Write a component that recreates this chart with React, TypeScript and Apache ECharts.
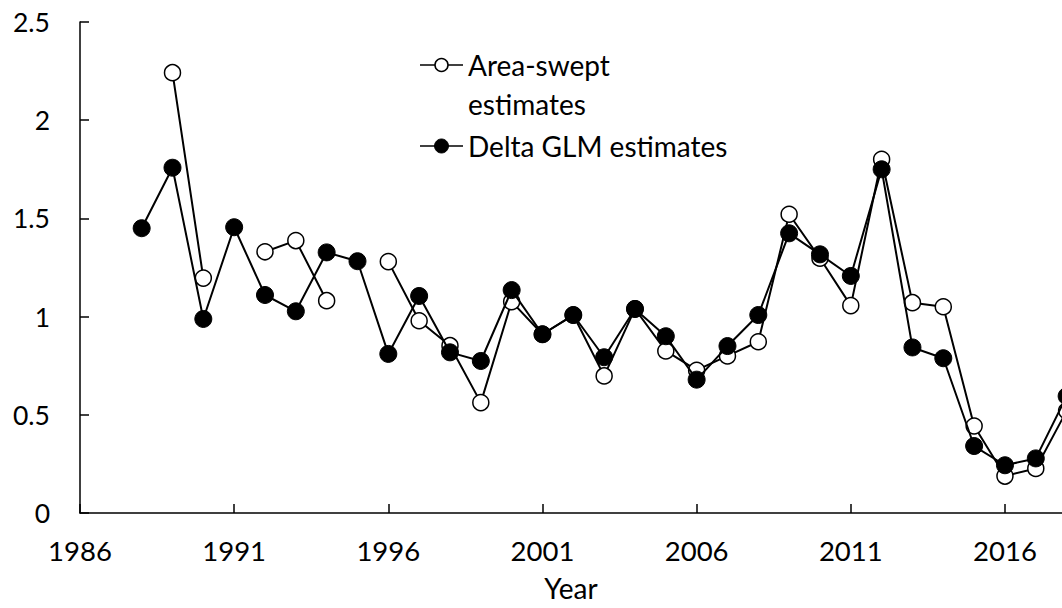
import React, { useEffect, useRef } from "react";
import * as echarts from "echarts";

const years = [
  1988, 1989, 1990, 1991, 1992, 1993, 1994, 1995, 1996, 1997, 1998, 1999, 2000,
  2001, 2002, 2003, 2004, 2005, 2006, 2007, 2008, 2009, 2010, 2011, 2012, 2013,
  2014, 2015, 2016, 2017, 2018,
];

const areaSwept: (number | null)[] = [
  null, 2.242, 1.196, null, 1.33, 1.387, 1.081, null, 1.28, 0.979, 0.852, 0.562,
  1.076, 0.91, 1.008, 0.698, 1.039, 0.825, 0.727, 0.8, 0.872, 1.521, 1.297,
  1.056, 1.801, 1.071, 1.05, 0.443, 0.188, 0.227, 0.52,
];

const deltaGLM: number[] = [
  1.45, 1.758, 0.988, 1.455, 1.11, 1.027, 1.327, 1.282, 0.81, 1.105, 0.818,
  0.774, 1.135, 0.91, 1.008, 0.793, 1.039, 0.9, 0.679, 0.85, 1.008, 1.424,
  1.317, 1.207, 1.75, 0.843, 0.788, 0.341, 0.243, 0.278, 0.595,
];

const xTickLabels = [1986, 1991, 1996, 2001, 2006, 2011, 2016];
const legendNames = ["Area-swept", "estimates", "Delta GLM estimates"];

const FONT = "Lato";

export default function App() {
  const ref = useRef<HTMLDivElement>(null);

  useEffect(() => {
    if (!ref.current) return;
    const chart = echarts.init(ref.current, null, { renderer: "svg" });
    const toData = (vals: (number | null)[]) =>
      years.map((y, i) => [y, vals[i] == null ? "-" : vals[i]]);

    const legendText = (text: string, x: number, y: number) => ({
      type: "text",
      x,
      y,
      style: { text, fill: "#000", fontFamily: FONT, fontSize: 28, verticalAlign: "middle" },
    });

    chart.setOption({
      animation: false,
      backgroundColor: "#ffffff",
      grid: { left: 80, top: 22, right: 0, bottom: 95, containLabel: false },
      xAxis: {
        type: "value",
        min: 1986,
        max: 2017.85,
        name: "Year",
        nameLocation: "middle",
        nameGap: 61,
        nameTextStyle: { color: "#000", fontFamily: FONT, fontSize: 28 },
        axisLine: { show: true, onZero: false, lineStyle: { color: "#000", width: 1.5 } },
        axisTick: {
          show: true,
          inside: true,
          length: 9,
          customValues: xTickLabels,
          lineStyle: { color: "#000", width: 1.5 },
        },
        axisLabel: {
          show: true,
          customValues: xTickLabels,
          margin: 23,
          color: "#000",
          fontFamily: FONT,
          fontSize: 27.5,
          formatter: (v: number) => String(v),
        },
        splitLine: { show: false },
      },
      yAxis: {
        type: "value",
        min: 0,
        max: 2.5,
        interval: 0.5,
        axisLine: { show: true, lineStyle: { color: "#000", width: 1.5 } },
        axisTick: { show: true, inside: true, length: 9, lineStyle: { color: "#000", width: 1.5 } },
        axisLabel: {
          margin: 30,
          color: "#000",
          fontFamily: FONT,
          fontSize: 26.5,
        },
        splitLine: { show: false },
      },
      series: [
        {
          name: "Area-swept estimates",
          type: "line",
          data: toData(areaSwept),
          clip: false,
          connectNulls: false,
          symbol: "circle",
          symbolSize: 16,
          showAllSymbol: true,
          lineStyle: { color: "#000", width: 2 },
          itemStyle: { color: "#fff", borderColor: "#000", borderWidth: 1.5 },
          z: 2,
        },
        {
          name: "Delta GLM estimates",
          type: "line",
          data: toData(deltaGLM),
          clip: false,
          symbol: "circle",
          symbolSize: 17,
          showAllSymbol: true,
          lineStyle: { color: "#000", width: 2 },
          itemStyle: { color: "#000", borderColor: "#000", borderWidth: 1 },
          z: 3,
        },
      ],
      graphic: [
        { type: "line", shape: { x1: 420, y1: 65, x2: 463, y2: 65 }, style: { stroke: "#000", lineWidth: 1.5 } },
        { type: "circle", shape: { cx: 441.5, cy: 65, r: 6.5 }, style: { fill: "#fff", stroke: "#000", lineWidth: 1.5 } },
        legendText(legendNames[0], 468, 65),
        legendText(legendNames[1], 468, 104),
        { type: "line", shape: { x1: 420, y1: 146, x2: 463, y2: 146 }, style: { stroke: "#000", lineWidth: 1.5 } },
        { type: "circle", shape: { cx: 441.5, cy: 146, r: 7 }, style: { fill: "#000", stroke: "#000", lineWidth: 1 } },
        legendText(legendNames[2], 468, 146),
      ],
    });

    return () => chart.dispose();
  }, []);

  return (
    <div
      ref={ref}
      style={{ position: "fixed", left: 0, top: 0, width: 1062, height: 608, background: "#fff" }}
    />
  );
}
